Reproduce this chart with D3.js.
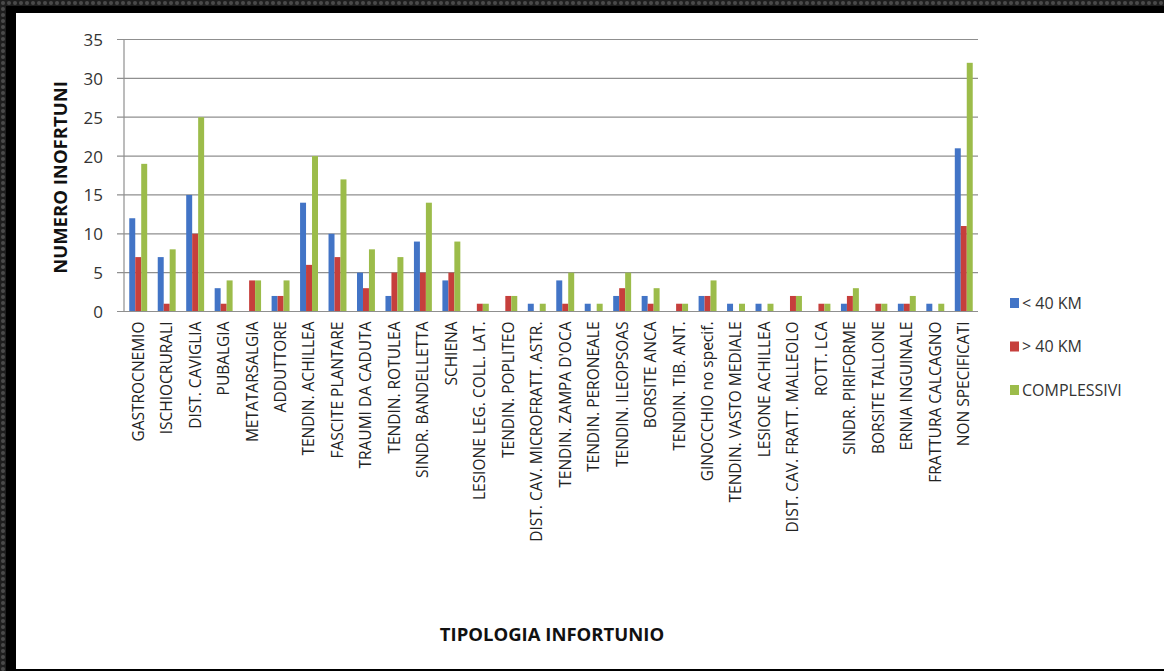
<!DOCTYPE html>
<html>
<head>
<meta charset="utf-8">
<script src="https://cdn.jsdelivr.net/npm/d3@7"></script>
<style>
  html, body { margin: 0; padding: 0; background: #2b2b2b; }
  svg { display: block; }
</style>
</head>
<body>
<svg id="chart" width="1164" height="671"></svg>
<script>
const categories = [
  "GASTROCNEMIO", "ISCHIOCRURALI", "DIST. CAVIGLIA", "PUBALGIA", "METATARSALGIA",
  "ADDUTTORE", "TENDIN. ACHILLEA", "FASCITE PLANTARE", "TRAUMI DA CADUTA", "TENDIN. ROTULEA",
  "SINDR. BANDELLETTA", "SCHIENA", "LESIONE LEG. COLL. LAT.", "TENDIN. POPLITEO",
  "DIST. CAV. MICROFRATT. ASTR.", "TENDIN. ZAMPA D'OCA", "TENDIN. PERONEALE", "TENDIN. ILEOPSOAS",
  "BORSITE ANCA", "TENDIN. TIB. ANT.", "GINOCCHIO no specif.", "TENDIN. VASTO MEDIALE",
  "LESIONE ACHILLEA", "DIST. CAV. FRATT. MALLEOLO", "ROTT. LCA", "SINDR. PIRIFORME",
  "BORSITE TALLONE", "ERNIA INGUINALE", "FRATTURA CALCAGNO", "NON SPECIFICATI"
];
const under40 =    [12, 7, 15, 3, 0, 2, 14, 10, 5, 2, 9, 4, 0, 0, 1, 4, 1, 2, 2, 0, 2, 1, 1, 0, 0, 1, 0, 1, 1, 21];
const over40 =     [7, 1, 10, 1, 4, 2, 6, 7, 3, 5, 5, 5, 1, 2, 0, 1, 0, 3, 1, 1, 2, 0, 0, 2, 1, 2, 1, 1, 0, 11];
const complessivi = [19, 8, 25, 4, 4, 4, 20, 17, 8, 7, 14, 9, 1, 2, 1, 5, 1, 5, 3, 1, 4, 1, 1, 2, 1, 3, 1, 2, 1, 32];
const seriesNames = ["< 40 KM", "> 40 KM", "COMPLESSIVI"];
const seriesColors = ["#4274c6", "#c63f3c", "#9cbc4a"];
const yTicks = [0, 5, 10, 15, 20, 25, 30, 35];
const yTitle = "NUMERO INOFRTUNI";
const xTitle = "TIPOLOGIA INFORTUNIO";

const series = [under40, over40, complessivi];

const svg = d3.select("#chart");

// frame
const defs = svg.append("defs");
const pat = defs.append("pattern").attr("id", "dots").attr("width", 6).attr("height", 6)
  .attr("patternUnits", "userSpaceOnUse");
pat.append("rect").attr("width", 6).attr("height", 6).attr("fill", "#1e1e1e");
pat.append("circle").attr("cx", 3).attr("cy", 3).attr("r", 2).attr("fill", "#4a4a4a");
svg.append("rect").attr("width", 1164).attr("height", 671).attr("fill", "url(#dots)");
svg.append("rect").attr("x", 6).attr("y", 6).attr("width", 1158).attr("height", 665).attr("fill", "#000");
svg.append("rect").attr("x", 16).attr("y", 13).attr("width", 1148).attr("height", 656).attr("fill", "#fff");

const plot = { left: 124, right: 978, top: 39.5, bottom: 311.5 };

const x0 = d3.scaleBand().domain(categories).range([plot.left, plot.right]).paddingInner(0.37).paddingOuter(0.185);
const x1 = d3.scaleBand().domain(d3.range(series.length)).range([0, x0.bandwidth()]).padding(0);
const y = d3.scaleLinear().domain([0, 35]).range([plot.bottom, plot.top]);

// gridlines
const grid = svg.append("g");
grid.selectAll("line").data(yTicks).join("line")
  .attr("x1", plot.left - 7).attr("x2", plot.right)
  .attr("y1", d => y(d)).attr("y2", d => y(d))
  .attr("stroke", "#8f8f8f").attr("stroke-width", 1.2);

// y axis labels
const yAxis = d3.axisLeft(y).tickValues(yTicks).tickSize(0).tickPadding(0).tickFormat(d3.format("d"));
const gy = svg.append("g").attr("transform", `translate(${plot.left - 21},0)`).call(yAxis);
gy.select(".domain").remove();
gy.selectAll("text")
  .attr("font-family", "'Open Sans', sans-serif").attr("font-size", 17).attr("fill", "#333")
  .attr("dy", "0.35em");

// y axis line
svg.append("line").attr("x1", plot.left).attr("x2", plot.left)
  .attr("y1", plot.top).attr("y2", plot.bottom)
  .attr("stroke", "#8f8f8f").attr("stroke-width", 1.2);

// bars
const groups = svg.append("g").selectAll("g").data(categories).join("g")
  .attr("transform", d => `translate(${x0(d)},0)`);
groups.selectAll("rect").data((d, i) => series.map((s, k) => ({ k, v: s[i] }))).join("rect")
  .attr("x", d => x1(d.k))
  .attr("width", x1.bandwidth())
  .attr("y", d => y(d.v))
  .attr("height", d => y(0) - y(d.v))
  .attr("fill", d => seriesColors[d.k]);

// x axis baseline
svg.append("line").attr("x1", plot.left).attr("x2", plot.right)
  .attr("y1", plot.bottom).attr("y2", plot.bottom)
  .attr("stroke", "#8f8f8f").attr("stroke-width", 1.2);

// x labels
const xAxis = d3.axisBottom(x0).tickSize(0).tickPadding(0);
const gx = svg.append("g").attr("transform", `translate(0,${plot.bottom + 10})`).call(xAxis);
gx.select(".domain").remove();
gx.selectAll("text")
  .attr("font-family", "'Open Sans', sans-serif").attr("font-size", 15.5).attr("fill", "#222")
  .attr("transform", "rotate(-90)")
  .attr("text-anchor", "end")
  .attr("x", 0).attr("y", 0).attr("dy", "0.35em");

// axis titles
svg.append("text")
  .attr("transform", `translate(61,${(plot.top + plot.bottom) / 2 + 2}) rotate(-90)`)
  .attr("text-anchor", "middle").attr("dy", "0.35em")
  .attr("font-family", "'Open Sans', sans-serif").attr("font-weight", "bold").attr("font-size", 18.5)
  .attr("fill", "#111").text(yTitle);

svg.append("text")
  .attr("x", 552).attr("y", 635)
  .attr("text-anchor", "middle").attr("dy", "0.35em")
  .attr("font-family", "'Open Sans', sans-serif").attr("font-weight", "bold").attr("font-size", 18.5)
  .attr("fill", "#111").text(xTitle);

// legend
const legend = svg.append("g").attr("transform", "translate(1010,303)");
const li = legend.selectAll("g").data(seriesNames).join("g")
  .attr("transform", (d, i) => `translate(0,${i * 43.5})`);
li.append("rect").attr("x", 0).attr("y", -5).attr("width", 9).attr("height", 10)
  .attr("fill", (d, i) => seriesColors[i]);
li.append("text").attr("x", 12).attr("y", 0).attr("dy", "0.35em")
  .attr("font-family", "'Open Sans', sans-serif").attr("font-size", 16).attr("fill", "#333")
  .text(d => d);
</script>
</body>
</html>
